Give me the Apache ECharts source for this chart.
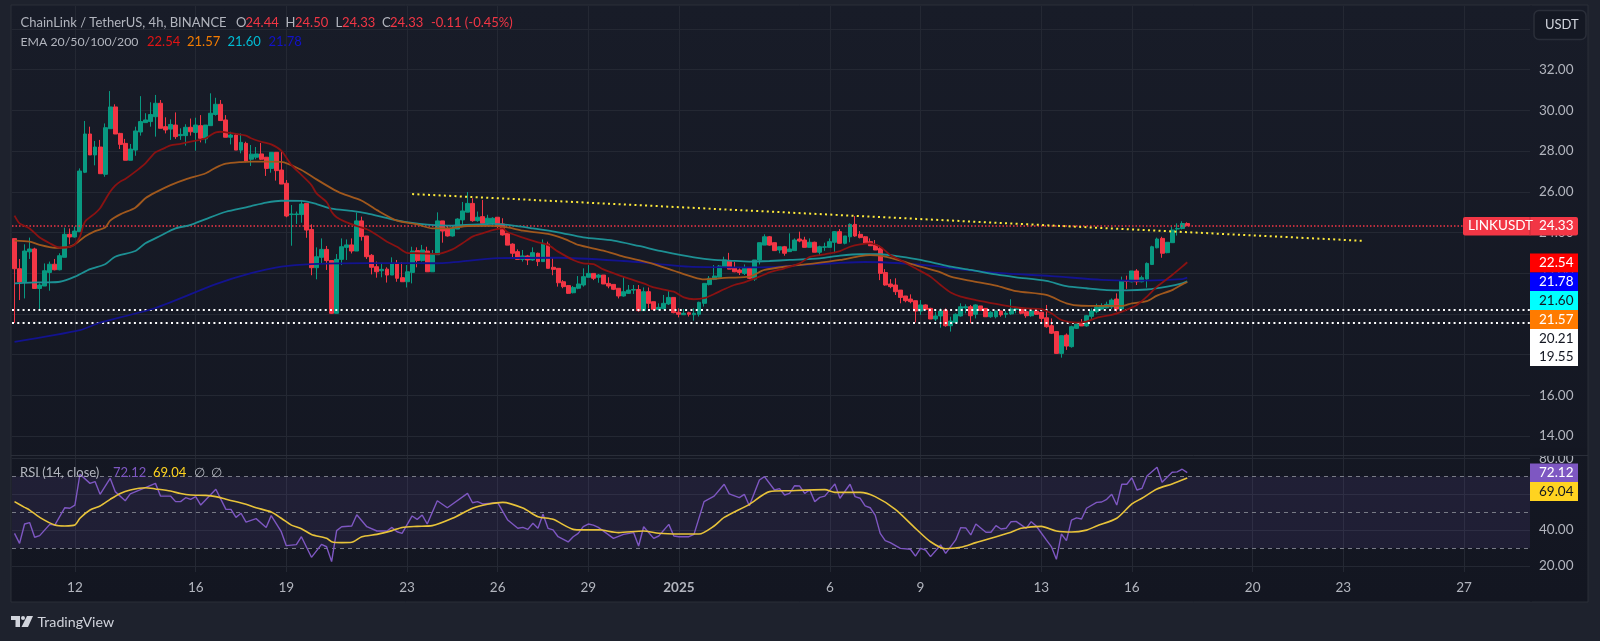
<!DOCTYPE html>
<html>
<head>
<meta charset="utf-8">
<title>LINKUSDT</title>
<script src="https://cdn.jsdelivr.net/npm/echarts@6/dist/echarts.min.js"></script>
<style>
html, body { margin: 0; padding: 0; background: #1e222d; }
#main { width: 1600px; height: 641px; }
</style>
</head>
<body>
<div id="main"></div>
<script>
// [open, close, low, high], one row per 4h bar
var candles = [
[23.70,22.22,19.55,23.70],[22.22,21.57,20.68,22.70],[21.57,23.09,20.76,23.42],[23.05,23.19,22.70,23.75],[23.19,21.25,21.25,23.25],
[21.25,21.42,20.24,21.50],[21.37,22.12,21.37,22.48],[22.04,22.44,21.14,22.57],[22.44,22.17,22.14,22.70],[22.17,22.86,22.14,22.98],
[22.78,23.91,22.78,24.24],[23.91,23.78,23.42,24.20],[23.78,24.07,23.75,24.29],[24.04,27.02,24.04,27.15],[26.96,28.84,26.92,29.48],
[28.84,27.81,27.81,29.20],[27.81,28.20,27.30,28.50],[28.20,26.89,26.89,28.55],[26.86,29.15,26.74,29.36],[29.10,30.17,29.10,30.95],
[30.17,28.84,28.84,30.30],[28.87,28.33,28.10,28.90],[28.38,27.55,27.55,28.60],[27.55,28.10,27.55,28.35],[28.05,28.99,27.77,29.20],
[28.94,29.45,28.76,30.70],[29.40,29.53,29.40,29.86],[29.45,29.80,29.20,30.40],[29.69,30.35,28.71,30.76],[30.35,29.12,29.12,30.51],
[29.20,29.04,28.87,29.66],[29.08,29.31,28.55,29.56],[29.28,28.71,28.60,29.90],[28.76,28.82,28.55,29.12],[28.76,29.17,28.27,29.32],
[29.17,28.95,28.76,29.60],[28.92,29.28,28.02,29.64],[29.25,28.63,28.43,29.77],[28.60,29.28,28.38,29.28],[29.25,29.86,29.25,30.84],
[29.80,30.30,29.74,30.62],[30.30,29.50,29.50,30.51],[29.53,28.68,28.68,29.77],[28.68,28.79,28.33,28.95],[28.79,28.05,28.05,28.87],
[28.05,28.43,27.89,28.87],[28.38,27.51,27.45,28.46],[27.60,27.85,27.27,28.30],[27.70,27.86,27.60,28.20],[27.86,27.60,27.56,28.40],
[27.70,27.15,26.78,27.70],[27.15,27.94,26.94,27.94],[27.94,27.04,26.55,27.94],[27.07,26.38,26.38,28.02],[26.42,24.81,24.75,26.58],
[24.88,24.91,23.35,25.35],[24.88,24.91,24.42,25.03],[24.88,25.40,24.48,25.60],[25.43,24.12,23.74,25.43],[24.15,22.27,21.90,24.40],
[22.27,22.81,21.70,23.27],[22.78,23.17,22.48,23.71],[23.17,22.62,22.16,23.34],[22.62,20.03,20.00,22.62],[20.03,22.68,20.03,22.94],
[22.68,23.30,22.40,23.71],[23.27,23.39,22.65,23.66],[23.39,23.09,22.97,23.71],[23.09,24.57,23.09,24.98],[24.57,23.80,23.60,24.78],
[23.83,22.81,22.70,23.83],[22.88,22.29,21.94,22.94],[22.32,22.07,21.78,22.57],[22.12,22.19,21.80,22.45],[22.20,21.91,21.54,22.29],
[21.91,22.48,21.91,22.78],[22.45,21.75,21.58,22.65],[21.78,21.58,21.58,22.53],[21.58,22.07,21.30,22.40],[22.04,23.09,21.50,23.30],
[23.11,22.62,22.29,23.27],[22.62,23.14,22.57,23.39],[23.09,22.07,22.07,23.30],[22.07,22.94,22.07,23.14],[22.91,24.57,22.91,24.99],
[24.57,24.07,23.50,24.57],[24.17,23.83,23.80,24.33],[23.83,24.20,23.80,24.37],[24.17,24.66,24.17,24.70],[24.62,25.06,24.37,25.50],
[25.00,25.43,25.00,25.99],[25.43,24.58,24.53,25.68],[24.58,24.75,24.53,25.03],[24.78,24.45,24.45,25.60],[24.45,24.70,24.37,24.87],
[24.46,24.70,24.35,24.75],[24.75,24.32,24.20,24.75],[24.42,23.88,23.85,24.70],[23.96,23.38,23.38,23.96],[23.43,22.98,22.78,23.47],
[23.06,22.68,22.68,23.17],[22.68,22.85,22.57,23.14],[22.85,22.65,22.40,22.90],[22.65,23.01,22.61,23.27],[22.98,22.57,22.35,23.01],
[22.57,23.47,22.57,23.66],[23.43,22.24,22.24,23.55],[22.29,22.19,21.90,22.78],[22.24,21.53,21.34,22.24],[21.58,21.34,21.26,21.66],
[21.39,21.01,20.98,21.42],[21.04,21.30,21.01,21.37],[21.26,21.47,21.21,21.86],[21.42,21.83,21.34,22.24],[21.80,21.99,21.80,22.40],
[21.99,21.75,21.66,21.99],[21.80,21.91,21.53,21.96],[21.91,21.47,21.47,21.91],[21.50,21.37,21.26,21.80],[21.45,21.21,21.17,21.45],
[21.26,20.88,20.76,21.26],[20.88,21.09,20.85,21.83],[21.01,21.17,20.98,21.42],[21.17,21.20,20.98,21.42],[21.20,20.16,20.11,21.42],
[20.16,21.09,20.16,21.30],[21.09,20.52,20.27,21.30],[20.60,20.22,20.16,20.60],[20.22,20.32,20.19,20.52],[20.27,20.52,20.22,20.93],
[20.49,20.81,20.44,21.17],[20.81,20.06,20.03,20.81],[20.08,19.98,19.83,20.27],[19.96,20.03,19.95,20.24],[20.06,19.98,19.87,20.11],
[19.96,20.03,19.67,20.27],[19.98,20.57,19.87,20.60],[20.52,21.50,20.36,21.50],[21.44,21.75,21.40,21.86],[21.70,21.86,21.66,22.40],
[21.80,22.35,21.80,22.40],[22.32,22.65,22.32,22.81],[22.60,22.20,22.20,23.00],[22.27,22.07,22.05,22.56],[22.16,22.03,21.91,22.24],
[21.99,22.24,21.91,22.43],[22.24,21.75,21.71,22.27],[21.71,22.65,21.62,22.65],[22.65,23.50,22.43,23.50],[23.38,23.79,23.38,23.91],
[23.79,23.38,23.35,23.83],[23.50,23.11,23.09,23.50],[23.14,23.30,22.98,23.30],[23.30,22.98,22.86,23.34],[23.06,23.19,23.06,23.96],
[23.11,23.63,23.11,23.71],[23.68,23.58,23.52,24.04],[23.63,23.27,23.27,23.79],[23.27,23.52,23.27,23.71],[23.52,23.03,23.03,23.55],
[23.03,23.30,22.86,23.35],[23.27,23.30,23.10,23.50],[23.27,23.55,23.27,23.71],[23.52,24.04,22.98,24.07],[24.04,23.47,23.47,24.17],
[23.47,23.83,23.42,23.83],[23.79,24.40,23.52,24.45],[24.40,23.83,23.79,24.81],[23.91,23.75,23.71,24.07],[23.79,23.47,23.47,23.83],
[23.55,23.35,23.35,23.71],[23.38,23.14,23.14,23.63],[23.22,21.99,21.66,23.35],[22.03,21.42,21.39,22.20],[21.47,21.34,21.26,21.71],
[21.42,21.09,20.93,21.75],[21.17,20.81,20.52,21.17],[20.88,20.65,20.57,20.88],[20.73,20.60,20.52,20.96],[20.65,20.14,19.58,20.65],
[20.14,20.44,19.95,20.68],[20.44,20.22,20.19,20.47],[20.27,19.75,19.75,20.30],[19.75,19.90,19.65,20.11],[19.90,20.14,19.32,20.27],
[20.19,19.42,19.37,20.27],[19.42,19.65,19.13,19.86],[19.58,19.98,19.58,20.03],[19.90,20.35,19.87,20.52],[20.30,20.35,20.03,20.47],
[20.35,19.91,19.54,20.44],[19.98,20.44,19.78,20.47],[20.39,20.17,20.17,20.39],[20.27,19.86,19.86,20.27],[19.86,20.08,19.81,20.14],
[19.86,20.14,19.78,20.17],[20.14,19.95,19.86,20.17],[19.98,20.03,19.81,20.14],[20.00,20.24,19.95,20.72],[20.22,20.27,20.03,20.35],
[20.27,20.03,19.98,20.30],[20.11,19.91,19.81,20.14],[19.91,20.14,19.86,20.19],[20.14,19.98,19.95,20.17],[20.08,19.78,19.58,20.11],
[19.81,19.37,19.32,20.44],[19.42,19.05,19.01,19.78],[19.13,18.06,18.03,19.16],[18.06,18.93,17.85,18.93],[18.96,18.42,18.23,19.04],
[18.39,19.37,18.34,19.42],[19.29,19.50,19.26,19.58],[19.54,19.41,19.41,19.75],[19.41,19.91,19.37,19.95],[19.88,20.14,19.75,20.27],
[20.11,20.34,20.03,20.50],[20.24,20.39,20.19,20.52],[20.30,20.47,20.27,20.60],[20.34,20.68,20.24,20.76],[20.73,20.24,20.11,21.01],
[20.24,21.62,20.19,21.83],[21.62,21.60,21.23,21.88],[21.58,22.11,21.55,22.11],[22.11,21.58,21.42,22.20],[21.58,21.78,21.55,21.88],
[21.71,22.48,21.29,22.53],[22.43,23.30,22.40,23.35],[23.25,23.68,23.22,23.75],[23.71,22.98,22.76,23.79],[23.01,23.52,22.98,23.52],
[23.50,24.12,23.50,24.29],[24.17,24.20,23.85,24.45],[24.20,24.44,24.15,24.55],[24.44,24.33,24.33,24.50]
];

// moving averages as [bar index, price]
var ema20 = [[0,24.83],[1,24.45],[3,24.2],[5,23.75],[7,23.47],[9,23.25],[11,23.29],[12,23.42],[13,23.8],[14,24.53],[16,24.94],[17,25.19],[18,25.6],[19,26.0],[20,26.3],[21,26.5],[22,26.63],[24,26.99],[26,27.4],[27,27.68],[28,27.94],[30,28.17],[31,28.28],[33,28.36],[36,28.51],[38,28.63],[39,28.79],[40,28.92],[41,28.95],[42,28.92],[44,28.85],[46,28.76],[47,28.63],[49,28.46],[51,28.33],[53,28.02],[55,27.32],[57,26.83],[59,26.33],[60,25.92],[62,25.5],[63,25.02],[64,24.75],[66,24.5],[68,24.32],[70,24.16],[72,23.88],[74,23.55],[76,23.3],[78,23.0],[80,22.98],[84,22.95],[87,23.17],[89,23.47],[91,23.8],[93,23.96],[95,24.12],[97,24.2],[98,24.01],[101,23.75],[104,23.52],[106,23.39],[108,23.06],[111,22.65],[113,22.48],[115,22.45],[117,22.19],[120,21.91],[123,21.66],[125,21.5],[127,21.3],[131,21.09],[133,20.81],[135,20.72],[137,20.77],[139,20.98],[141,21.21],[143,21.42],[145,21.55],[148,21.83],[150,22.04],[153,22.24],[156,22.48],[158,22.8],[161,22.93],[164,23.09],[166,23.3],[168,23.42],[170,23.47],[172,23.3],[174,22.89],[176,22.65],[179,22.24],[182,21.83],[184,21.42],[186,21.05],[188,20.85],[191,20.68],[195,20.49],[198,20.36],[201,20.27],[204,20.24],[206,20.03],[208,19.7],[211,19.57],[213,19.62],[215,19.81],[218,19.95],[220,20.11],[223,20.44],[225,20.85],[227,21.34],[230,21.91],[232,22.32],[233,22.54]];
var ema50 = [[0,23.6],[3,23.55],[5,23.39],[8,23.25],[11,23.3],[12,23.42],[14,23.8],[16,24.07],[18,24.24],[19,24.58],[21,24.89],[24,25.22],[26,25.68],[28,25.97],[31,26.33],[34,26.61],[38,26.91],[40,27.19],[42,27.38],[45,27.46],[47,27.48],[50,27.48],[53,27.47],[57,27.07],[60,26.61],[63,26.17],[65,25.92],[69,25.56],[72,25.1],[76,24.58],[80,24.4],[83,24.2],[86,24.2],[90,24.32],[95,24.33],[98,24.25],[101,24.09],[106,23.93],[109,23.71],[112,23.39],[117,23.11],[121,22.81],[126,22.52],[131,22.12],[135,21.8],[137,21.7],[140,21.75],[142,21.78],[146,21.83],[149,22.16],[154,22.35],[159,22.48],[164,22.65],[168,22.84],[170,22.89],[172,22.86],[176,22.62],[180,22.32],[184,22.04],[186,21.83],[190,21.62],[195,21.39],[199,21.12],[205,20.93],[209,20.52],[212,20.4],[216,20.39],[220,20.39],[222,20.52],[225,20.63],[227,20.9],[230,21.17],[232,21.45],[233,21.57]];
var ema100 = [[0,21.5],[3,21.54],[6,21.55],[9,21.58],[12,21.83],[15,22.2],[18,22.44],[20,22.81],[24,23.09],[26,23.47],[29,23.84],[32,24.2],[35,24.37],[38,24.66],[42,25.02],[46,25.24],[47,25.3],[50,25.47],[53,25.56],[57,25.55],[60,25.4],[63,25.17],[67,25.06],[70,24.94],[75,24.65],[79,24.47],[82,24.39],[87,24.34],[95,24.42],[98,24.37],[103,24.2],[108,24.01],[113,23.76],[119,23.6],[124,23.34],[129,23.06],[135,22.78],[139,22.65],[142,22.62],[146,22.57],[150,22.6],[154,22.65],[160,22.73],[164,22.86],[168,22.93],[172,22.93],[176,22.81],[180,22.65],[184,22.43],[186,22.32],[190,22.16],[195,21.94],[199,21.8],[205,21.62],[209,21.37],[213,21.26],[217,21.17],[221,21.16],[225,21.2],[229,21.34],[232,21.5],[233,21.6]];
var ema200 = [[0,18.62],[13,19.2],[17,19.57],[28,20.29],[40,21.46],[47,22.0],[53,22.32],[59,22.45],[71,22.5],[84,22.49],[96,22.74],[108,22.76],[121,22.6],[128,22.45],[134,22.32],[143,22.29],[150,22.3],[156,22.4],[163,22.49],[169,22.55],[176,22.49],[183,22.35],[189,22.16],[196,22.0],[206,21.86],[216,21.67],[222,21.63],[232,21.71],[233,21.78]];

var rsi = [[0,38.2],[1,32.6],[2,43.4],[3,44.2],[4,36],[5,36.9],[7,43.2],[8,42.8],[10,52.5],[11,52.2],[12,54],[13,71.2],[15,66.1],[16,67.1],[17,60],[19,68.9],[20,61.5],[22,56.4],[23,60.2],[26,63.7],[28,66.1],[29,59],[31,59],[32,55.9],[33,55.9],[34,58.1],[35,57.2],[36,58.7],[37,54],[40,62.8],[42,51.6],[43,51.6],[44,47.1],[45,49.4],[46,44.5],[48,46.4],[50,41.5],[51,48.1],[53,39.1],[54,31.3],[56,31.9],[57,36.3],[59,24.8],[61,32.0],[62,30.7],[63,22.4],[64,39.7],[65,41.9],[67,42.3],[68,48.6],[70,41.9],[72,39.5],[74,39.5],[75,41.5],[76,39.1],[77,38.2],[79,47.9],[80,46],[81,48.4],[82,43.4],[84,56.4],[86,52.5],[90,60.5],[91,55.3],[92,55.9],[93,54.6],[96,55.3],[98,45.6],[100,41],[101,41.5],[102,40.4],[103,43.8],[104,41],[105,48.8],[106,41],[107,40.1],[108,36.3],[110,33.4],[111,36.3],[112,38.2],[113,41.9],[114,43.4],[115,42.8],[116,41.5],[119,35.4],[121,37.6],[123,38.6],[124,31.1],[125,41.9],[127,35.4],[128,36.7],[130,43.2],[131,36.7],[132,36.3],[134,36.3],[135,37.6],[137,55.9],[139,59],[141,65.6],[142,60.2],[144,58.1],[145,60],[146,53.6],[148,68],[149,69.9],[151,62.4],[152,63.2],[153,59.6],[154,60.5],[155,64.8],[156,64.6],[157,60.5],[158,62.4],[159,55.9],[160,58.3],[161,59],[163,65.8],[164,57.8],[166,65.6],[167,58.7],[168,57.8],[169,53.5],[170,52.5],[171,48.4],[172,38.2],[173,34.1],[174,33],[176,29.8],[178,29.3],[179,25.5],[180,29.8],[181,28.9],[182,25.2],[184,31.7],[185,27],[187,34.5],[188,41.4],[189,41.2],[190,37.3],[191,43.4],[193,38.8],[194,38.8],[195,42.5],[196,40.6],[197,41],[198,44.7],[199,44.9],[201,41],[202,44.7],[203,42.3],[205,34.5],[206,30.8],[207,23.7],[208,37.8],[209,34.1],[210,45.6],[211,46.8],[212,46.2],[213,52.2],[215,55.5],[216,55.7],[217,57.2],[218,60],[219,54],[220,65.6],[221,65.6],[222,69.3],[223,62.4],[224,63.3],[225,70.2],[227,75.1],[228,66.7],[230,72.3],[231,72.5],[232,74],[233,72.12]];
var rsiMa = [[0,55.9],[2,52.7],[3,51.2],[5,47.1],[8,42.8],[10,42.3],[12,42.8],[13,46.6],[15,51.2],[17,53.5],[19,57.2],[21,60.5],[23,62.4],[26,63.7],[28,63],[31,61.8],[33,60.4],[35,59.6],[38,59.4],[40,58.7],[42,57.2],[46,54.4],[48,52.5],[51,50.1],[53,46.6],[55,42.8],[57,40.8],[59,37.6],[62,35.4],[63,33.5],[65,33],[67,33.2],[69,36.3],[72,37.6],[75,39.7],[77,41.5],[80,42.1],[83,42.5],[87,46.6],[91,52.2],[94,54.4],[97,55.5],[101,52.3],[104,47.5],[107,46],[111,40.4],[113,40.1],[116,40.2],[120,38.6],[125,39.5],[128,38.2],[132,37.8],[136,37.8],[139,42.3],[141,47.1],[146,54.4],[150,61.5],[154,62],[161,62.6],[163,61.1],[168,61.1],[171,58.7],[175,51.6],[179,41],[182,33.5],[185,29.6],[188,30.4],[191,33],[198,38.8],[200,41],[204,42.1],[207,39.5],[210,38.9],[213,40],[215,42.3],[219,46.6],[222,54.6],[224,57.8],[227,63],[230,65.8],[233,69.04]];

// time scale: bar slots including the empty space on the right
var barSlots = 302;
var dateIndex = [12, 36, 54, 78, 96, 114, 132, 162, 180, 204, 222, 246, 264, 288];
var dateLabels = ['12', '16', '19', '23', '26', '29', '2025', '6', '9', '13', '16', '20', '23', '27'];

var lastPrice = 24.33;
var supportLevels = [20.21, 19.55];
var trendLine = [[79, 25.89], [268, 23.59]];
var rsiLevels = [70, 50, 30];

var categories = [];
for (var i = 0; i < barSlots; i++) {
    var pos = dateIndex.indexOf(i);
    categories.push(pos >= 0 ? dateLabels[pos] : '');
}

var FONT = 'Lato, "Noto Sans", sans-serif';
var GREEN = '#089981', RED = '#f23645', GRID = '#242833', AXIS_TEXT = '#b2b5be';
var GRID_LEFT = 12, GRID_WIDTH = 1520;

var panelFill = new echarts.graphic.LinearGradient(0, 0, 0, 1, [
    { offset: 0, color: '#181c28' },
    { offset: 1, color: '#131621' }
]);

function text(x, y, str, color, size, weight) {
    return {
        type: 'text', z: 50, x: x, y: y,
        style: { text: str, fill: color, font: (weight || 'normal') + ' ' + (size || 13) + 'px ' + FONT, textVerticalAlign: 'middle' }
    };
}

// price scale tags
function tag(x, y, w, h, fill, label, labelColor, labelY) {
    return [
        { type: 'rect', z: 40, shape: { x: x, y: y, width: w, height: h }, style: { fill: fill } },
        text(1539, labelY === undefined ? y + h / 2 : labelY, label, labelColor, 13.5)
    ];
}

var graphics = [
    { type: 'rect', z: -10, shape: { x: 11, y: 5, width: 1577, height: 597 }, style: { fill: panelFill, stroke: '#2a2e39', lineWidth: 1 } },
    { type: 'rect', z: 30, shape: { x: 1530, y: 5.5, width: 2, height: 596 }, style: { fill: panelFill } },
    // top of the RSI scale is cut by the pane divider
    { type: 'rect', z: 30, shape: { x: 1532, y: 448, width: 55, height: 7 }, style: { fill: '#141722' } },
    { type: 'line', z: 31, shape: { x1: 11, y1: 455.5, x2: 1588, y2: 455.5 }, style: { stroke: '#2a2e39', lineWidth: 1 } },

    // USDT button
    { type: 'rect', z: 40, shape: { x: 1534, y: 10.5, width: 52, height: 29, r: 5 }, style: { fill: '#141823', stroke: '#2a2e39', lineWidth: 1.5 } },
    text(1545, 24.5, 'USDT', '#d1d4dc', 13),

    // LINKUSDT tag
    { type: 'rect', z: 40, shape: { x: 1463, y: 217, width: 115, height: 18.5, r: 2 }, style: { fill: RED } },
    { type: 'line', z: 41, shape: { x1: 1530, y1: 217, x2: 1530, y2: 235.5 }, style: { stroke: '#c22c39', lineWidth: 1 } },
    text(1468, 226, 'LINKUSDT', '#ffffff', 13.5),
    text(1539, 226, '24.33', '#ffffff', 13.5),

    // header
    text(20.5, 22.5, 'ChainLink / TetherUS, 4h, BINANCE', AXIS_TEXT),
    text(236, 22.5, 'O', AXIS_TEXT), text(245.5, 22.5, '24.44', RED),
    text(285.5, 22.5, 'H', AXIS_TEXT), text(295, 22.5, '24.50', RED),
    text(335.5, 22.5, 'L', AXIS_TEXT), text(342, 22.5, '24.33', RED),
    text(382, 22.5, 'C', AXIS_TEXT), text(390, 22.5, '24.33', RED),
    text(431, 22.5, '-0.11 (-0.45%)', RED),

    text(20.5, 42, 'EMA 20/50/100/200', AXIS_TEXT, 12.3),
    text(147, 42, '22.54', '#e31414'), text(187, 42, '21.57', '#f57c00'),
    text(227.5, 42, '21.60', '#00bcd4'), text(268.5, 42, '21.78', '#1212c8'),

    text(20, 473, 'RSI (14, close)', AXIS_TEXT),
    text(113, 473, '72.12', '#7e57c2'), text(153, 473, '69.04', '#ffd320'),
    text(194, 473, '\u2205', AXIS_TEXT), text(211, 473, '\u2205', AXIS_TEXT),

    // footer logo
    { type: 'polygon', z: 40, shape: { points: [[11, 616], [20, 616], [20, 627], [15.5, 627], [15.5, 620], [11, 620]] }, style: { fill: '#d1d4dc' } },
    { type: 'circle', z: 40, shape: { cx: 23, cy: 618, r: 2 }, style: { fill: '#d1d4dc' } },
    { type: 'polygon', z: 40, shape: { points: [[27, 616], [33, 616], [28, 627], [21.5, 627]] }, style: { fill: '#d1d4dc' } },
    text(37.5, 622.5, 'TradingView', '#d1d4dc', 14.2)
];

// indicator values stacked on the price scale
graphics = graphics
    .concat(tag(1530, 253.5, 48, 19, '#ff0000', '22.54', '#ffffff'))
    .concat(tag(1530, 272.5, 48, 19, '#0000ff', '21.78', '#ffffff'))
    .concat(tag(1530, 291, 48, 19, '#00ffff', '21.60', '#131722'))
    .concat(tag(1530, 310, 48, 19, '#ff7b00', '21.57', '#ffffff'))
    .concat(tag(1530, 329, 48, 37, '#ffffff', '20.21', '#131722', 338.5))
    .concat([text(1539, 356.5, '19.55', '#131722', 13.5)])
    .concat(tag(1530, 463.5, 48, 19, '#7e57c2', '72.12', '#ffffff'))
    .concat(tag(1530, 482, 48, 19, '#ffd320', '69.04', '#131722'));

function lineSeries(name, data, color, width) {
    return {
        name: name, type: 'line', xAxisIndex: 1, yAxisIndex: 1, data: data, z: 5,
        showSymbol: false, silent: true, animation: false, smooth: 0.25,
        lineStyle: { color: color, width: width || 1.8 }
    };
}

function flatLines(values, style) {
    return {
        silent: true, symbol: 'none', animation: false, label: { show: false },
        lineStyle: style,
        data: values.map(function (v) { return { yAxis: v }; })
    };
}

var option = {
    backgroundColor: '#1e222d',
    animation: false,
    textStyle: { fontFamily: FONT },
    graphic: graphics,
    grid: [
        // full height frame: vertical lines and time labels
        { left: GRID_LEFT, width: GRID_WIDTH, top: 6, height: 566 },
        // price pane, 34 to 14
        { left: GRID_LEFT, width: GRID_WIDTH, top: 29, height: 407 },
        // RSI pane, 80 to 20
        { left: GRID_LEFT, width: GRID_WIDTH, top: 458.5, height: 107.4 }
    ],
    xAxis: [
        {
            type: 'category', gridIndex: 0, data: categories,
            axisLine: { show: false }, axisTick: { show: false },
            splitLine: {
                show: true, alignWithLabel: true,
                interval: function (idx) { return dateIndex.indexOf(idx) >= 0; },
                lineStyle: { color: GRID, width: 1 }
            },
            axisLabel: {
                margin: 9, color: AXIS_TEXT, fontSize: 13.5, fontFamily: FONT,
                interval: function (idx) { return dateIndex.indexOf(idx) >= 0; },
                formatter: function (v) { return v === '2025' ? '{b|2025}' : v; },
                rich: { b: { fontWeight: 'bold', color: AXIS_TEXT, fontSize: 13.5, fontFamily: FONT } }
            }
        },
        { type: 'category', gridIndex: 1, data: categories, show: false },
        { type: 'category', gridIndex: 2, data: categories, show: false }
    ],
    yAxis: [
        { type: 'value', gridIndex: 0, show: false, min: 0, max: 1, splitLine: { show: false } },
        {
            type: 'value', gridIndex: 1, position: 'right', min: 14, max: 34, interval: 2,
            axisLine: { show: false }, axisTick: { show: false },
            splitLine: { lineStyle: { color: GRID, width: 1 } },
            axisLabel: { margin: 7, color: AXIS_TEXT, fontSize: 13.5, fontFamily: FONT, formatter: function (v) { return v.toFixed(2); } }
        },
        {
            type: 'value', gridIndex: 2, position: 'right', min: 20, max: 80, interval: 20,
            axisLine: { show: false }, axisTick: { show: false },
            splitLine: { lineStyle: { color: GRID, width: 1 } },
            axisLabel: { margin: 7, color: AXIS_TEXT, fontSize: 13.5, fontFamily: FONT, formatter: function (v) { return v.toFixed(2); } }
        }
    ],
    series: [
        {
            name: 'LINKUSDT', type: 'candlestick', xAxisIndex: 1, yAxisIndex: 1, data: candles, barWidth: 4.4,
            silent: true, animation: false, z: 3,
            itemStyle: { color: GREEN, color0: RED, borderColor: GREEN, borderColor0: RED, borderWidth: 1 }
        },
        lineSeries('EMA 200', ema200, '#13138f'),
        lineSeries('EMA 100', ema100, '#1d9094'),
        lineSeries('EMA 50', ema50, '#a0581d'),
        lineSeries('EMA 20', ema20, '#8a1212'),
        {
            name: 'levels', type: 'line', xAxisIndex: 1, yAxisIndex: 1, data: [], z: 6, silent: true,
            markLine: flatLines(supportLevels, { color: '#ffffff', width: 2, type: [2, 3.3] })
        },
        {
            name: 'last', type: 'line', xAxisIndex: 1, yAxisIndex: 1, data: [], z: 6, silent: true,
            markLine: flatLines([lastPrice], { color: RED, width: 1.5, type: [1.5, 2] })
        },
        {
            name: 'trend', type: 'line', xAxisIndex: 1, yAxisIndex: 1, data: trendLine, z: 6, silent: true,
            showSymbol: false, animation: false,
            lineStyle: { color: '#ffeb3b', width: 2, type: [2, 3.3] }
        },
        {
            name: 'RSI', type: 'line', xAxisIndex: 2, yAxisIndex: 2, data: rsi, z: 5, silent: true,
            showSymbol: false, animation: false,
            lineStyle: { color: '#7e57c2', width: 1.4 },
            markArea: {
                silent: true, animation: false,
                itemStyle: { color: 'rgba(126,87,194,0.12)' },
                data: [[{ yAxis: rsiLevels[0] }, { yAxis: rsiLevels[2] }]]
            },
            markLine: flatLines(rsiLevels, { color: '#787b86', width: 1, type: [4, 4] })
        },
        {
            name: 'RSI MA', type: 'line', xAxisIndex: 2, yAxisIndex: 2, data: rsiMa, z: 6, silent: true,
            showSymbol: false, animation: false, smooth: 0.25,
            lineStyle: { color: '#e8c33a', width: 1.6 }
        }
    ]
};

var chart = echarts.init(document.getElementById('main'));
chart.setOption(option);
</script>
</body>
</html>
